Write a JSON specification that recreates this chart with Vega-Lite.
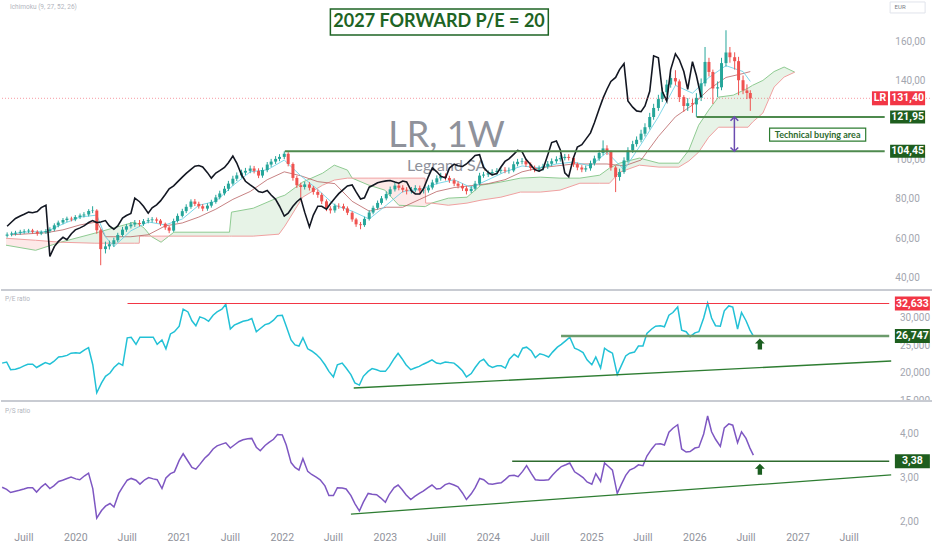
{
"$schema":"https://vega.github.io/schema/vega-lite/v6.json",
"padding":0,
"autosize":{"type":"pad"},
"spacing":0,
"background":"#ffffff",
"config":{"view":{"stroke":null},"font":"Roboto","legend":{"disable":true},"axis":{"disable":true}},
"datasets":{
"px":[
{"d":"2019-04-15","o":61.5,"h":63.2,"l":60.6,"c":62.1,"k":66.3,"pe":21.8,"ps":2.79},
{"d":"2019-05-01","o":62.1,"h":63.6,"l":61.2,"c":62.6,"k":68.5,"pe":22.0,"ps":2.74},
{"d":"2019-05-15","o":62.6,"h":64.0,"l":61.6,"c":63.0,"k":70.3,"pe":20.6,"ps":2.67},
{"d":"2019-06-01","o":63.0,"h":64.5,"l":62.0,"c":63.5,"k":71.5,"pe":20.7,"ps":2.70},
{"d":"2019-06-15","o":63.5,"h":64.8,"l":62.5,"c":63.8,"k":72.4,"pe":20.9,"ps":2.72},
{"d":"2019-07-01","o":63.8,"h":65.0,"l":62.8,"c":64.1,"k":73.5,"pe":21.3,"ps":2.75},
{"d":"2019-07-15","o":64.1,"h":65.0,"l":62.5,"c":63.5,"k":73.2,"pe":21.6,"ps":2.78},
{"d":"2019-08-01","o":63.5,"h":64.3,"l":61.5,"c":62.6,"k":73.8,"pe":21.6,"ps":2.78},
{"d":"2019-08-15","o":62.6,"h":64.2,"l":61.8,"c":63.3,"k":75.8,"pe":21.0,"ps":2.68},
{"d":"2019-09-01","o":63.3,"h":64.9,"l":62.4,"c":63.9,"k":77.0,"pe":21.5,"ps":2.80},
{"d":"2019-09-15","o":63.9,"h":65.8,"l":63.0,"c":64.7,"k":51.0,"pe":21.9,"ps":2.87},
{"d":"2019-10-01","o":64.7,"h":67.8,"l":63.8,"c":66.8,"k":56.0,"pe":21.6,"ps":2.76},
{"d":"2019-10-15","o":66.8,"h":69.2,"l":65.8,"c":68.2,"k":58.5,"pe":22.1,"ps":2.82},
{"d":"2019-11-01","o":68.2,"h":70.5,"l":67.3,"c":69.5,"k":60.7,"pe":22.9,"ps":2.92},
{"d":"2019-11-15","o":69.5,"h":71.2,"l":68.5,"c":70.2,"k":59.5,"pe":23.0,"ps":2.95},
{"d":"2019-12-01","o":70.2,"h":71.2,"l":68.8,"c":69.8,"k":62.5,"pe":23.2,"ps":2.99},
{"d":"2019-12-15","o":69.8,"h":72.0,"l":68.9,"c":71.0,"k":64.5,"pe":23.6,"ps":3.02},
{"d":"2020-01-01","o":71.0,"h":72.8,"l":70.0,"c":71.8,"k":65.5,"pe":23.7,"ps":2.98},
{"d":"2020-01-15","o":71.8,"h":73.5,"l":70.8,"c":72.3,"k":66.5,"pe":23.6,"ps":2.96},
{"d":"2020-02-01","o":72.3,"h":75.0,"l":71.3,"c":74.1,"k":68.2,"pe":24.2,"ps":3.05},
{"d":"2020-02-15","o":74.1,"h":76.5,"l":73.0,"c":74.3,"k":69.2,"pe":24.6,"ps":3.11},
{"d":"2020-03-01","o":74.3,"h":75.0,"l":62.5,"c":64.3,"k":68.2,"pe":21.5,"ps":2.76},
{"d":"2020-03-15","o":64.3,"h":65.0,"l":46.5,"c":54.7,"k":68.5,"pe":16.4,"ps":2.09},
{"d":"2020-04-01","o":54.7,"h":58.5,"l":52.5,"c":56.1,"k":69.2,"pe":18.2,"ps":2.26},
{"d":"2020-04-15","o":56.1,"h":59.0,"l":54.5,"c":57.2,"k":66.5,"pe":19.4,"ps":2.36},
{"d":"2020-05-01","o":57.2,"h":60.5,"l":55.8,"c":59.2,"k":64.8,"pe":20.0,"ps":2.42},
{"d":"2020-05-15","o":59.2,"h":63.0,"l":58.2,"c":61.9,"k":66.5,"pe":21.0,"ps":2.34},
{"d":"2020-06-01","o":61.9,"h":66.0,"l":61.0,"c":64.6,"k":70.5,"pe":21.8,"ps":2.65},
{"d":"2020-06-15","o":64.6,"h":67.5,"l":63.5,"c":66.3,"k":71.8,"pe":21.4,"ps":2.80},
{"d":"2020-07-01","o":66.3,"h":68.5,"l":65.2,"c":67.2,"k":72.8,"pe":26.4,"ps":2.95},
{"d":"2020-07-15","o":67.2,"h":69.5,"l":66.0,"c":68.0,"k":80.6,"pe":26.5,"ps":2.99},
{"d":"2020-08-01","o":68.0,"h":69.5,"l":66.2,"c":67.5,"k":78.8,"pe":25.2,"ps":2.95},
{"d":"2020-08-15","o":67.5,"h":70.0,"l":66.5,"c":68.9,"k":76.5,"pe":26.5,"ps":2.86},
{"d":"2020-09-01","o":68.9,"h":70.6,"l":67.8,"c":69.4,"k":73.0,"pe":26.5,"ps":2.96},
{"d":"2020-09-15","o":69.4,"h":71.0,"l":68.2,"c":69.8,"k":75.7,"pe":26.5,"ps":3.01},
{"d":"2020-10-01","o":69.8,"h":70.8,"l":68.0,"c":69.2,"k":77.2,"pe":26.5,"ps":2.98},
{"d":"2020-10-15","o":69.2,"h":70.0,"l":66.5,"c":67.6,"k":79.2,"pe":25.2,"ps":2.96},
{"d":"2020-11-01","o":67.6,"h":68.2,"l":64.5,"c":65.7,"k":82.5,"pe":26.0,"ps":2.76},
{"d":"2020-11-15","o":65.7,"h":66.5,"l":62.8,"c":64.1,"k":85.4,"pe":24.4,"ps":3.00},
{"d":"2020-12-01","o":64.1,"h":70.2,"l":63.5,"c":69.0,"k":86.9,"pe":27.1,"ps":3.10},
{"d":"2020-12-15","o":69.0,"h":72.8,"l":68.2,"c":71.6,"k":88.9,"pe":27.5,"ps":3.14},
{"d":"2021-01-01","o":71.6,"h":75.2,"l":70.8,"c":74.0,"k":91.3,"pe":28.5,"ps":3.40},
{"d":"2021-01-15","o":74.0,"h":77.5,"l":73.0,"c":76.2,"k":93.2,"pe":31.6,"ps":3.55},
{"d":"2021-02-01","o":76.2,"h":80.0,"l":75.2,"c":78.9,"k":95.2,"pe":31.1,"ps":3.38},
{"d":"2021-02-15","o":78.9,"h":80.2,"l":76.6,"c":77.7,"k":96.9,"pe":29.5,"ps":3.24},
{"d":"2021-03-01","o":77.7,"h":78.8,"l":75.3,"c":76.5,"k":97.2,"pe":28.6,"ps":3.20},
{"d":"2021-03-15","o":76.5,"h":77.6,"l":74.0,"c":75.3,"k":96.5,"pe":30.2,"ps":3.31},
{"d":"2021-04-01","o":75.3,"h":78.0,"l":74.2,"c":76.8,"k":93.6,"pe":29.9,"ps":3.45},
{"d":"2021-04-15","o":76.8,"h":79.8,"l":75.8,"c":78.7,"k":90.8,"pe":29.4,"ps":3.53},
{"d":"2021-05-01","o":78.7,"h":82.3,"l":77.8,"c":81.0,"k":93.4,"pe":30.5,"ps":3.66},
{"d":"2021-05-15","o":81.0,"h":84.4,"l":80.0,"c":83.0,"k":94.6,"pe":31.1,"ps":3.73},
{"d":"2021-06-01","o":83.0,"h":86.8,"l":82.0,"c":85.4,"k":96.2,"pe":31.6,"ps":3.77},
{"d":"2021-06-15","o":85.4,"h":89.4,"l":84.3,"c":88.0,"k":98.6,"pe":32.5,"ps":3.80},
{"d":"2021-07-01","o":88.0,"h":92.0,"l":87.0,"c":90.5,"k":102.0,"pe":28.0,"ps":3.68},
{"d":"2021-07-15","o":90.5,"h":93.7,"l":89.3,"c":92.2,"k":98.5,"pe":28.7,"ps":3.75},
{"d":"2021-08-01","o":92.2,"h":95.1,"l":91.0,"c":93.6,"k":92.5,"pe":29.1,"ps":3.83},
{"d":"2021-08-15","o":93.6,"h":96.0,"l":92.4,"c":94.5,"k":89.2,"pe":29.4,"ps":3.87},
{"d":"2021-09-01","o":94.5,"h":97.2,"l":93.3,"c":95.7,"k":87.4,"pe":29.6,"ps":3.89},
{"d":"2021-09-15","o":95.7,"h":97.0,"l":93.2,"c":94.5,"k":86.0,"pe":29.9,"ps":3.90},
{"d":"2021-10-01","o":94.5,"h":95.8,"l":90.8,"c":92.1,"k":84.0,"pe":27.5,"ps":3.70},
{"d":"2021-10-15","o":92.1,"h":96.2,"l":91.0,"c":94.9,"k":83.5,"pe":28.1,"ps":3.62},
{"d":"2021-11-01","o":94.9,"h":99.0,"l":93.8,"c":97.7,"k":84.5,"pe":28.8,"ps":3.74},
{"d":"2021-11-15","o":97.7,"h":100.6,"l":96.5,"c":99.2,"k":82.2,"pe":29.0,"ps":3.81},
{"d":"2021-12-01","o":99.2,"h":102.0,"l":98.0,"c":100.6,"k":80.0,"pe":29.6,"ps":3.88},
{"d":"2021-12-15","o":100.6,"h":103.0,"l":99.4,"c":101.6,"k":76.5,"pe":30.4,"ps":3.99},
{"d":"2022-01-01","o":101.6,"h":104.45,"l":100.5,"c":103.2,"k":71.5,"pe":30.5,"ps":3.98},
{"d":"2022-01-15","o":103.2,"h":104.0,"l":96.8,"c":98.0,"k":73.0,"pe":28.5,"ps":3.75},
{"d":"2022-02-01","o":98.0,"h":98.8,"l":89.5,"c":90.9,"k":76.5,"pe":26.0,"ps":3.35},
{"d":"2022-02-15","o":90.9,"h":92.0,"l":85.8,"c":87.2,"k":78.8,"pe":25.1,"ps":3.24},
{"d":"2022-03-01","o":87.2,"h":88.5,"l":81.0,"c":86.3,"k":80.5,"pe":24.9,"ps":3.18},
{"d":"2022-03-15","o":86.3,"h":89.0,"l":85.0,"c":87.6,"k":73.5,"pe":26.4,"ps":3.44},
{"d":"2022-04-01","o":87.6,"h":88.8,"l":84.5,"c":85.9,"k":66.0,"pe":24.4,"ps":3.15},
{"d":"2022-04-15","o":85.9,"h":86.8,"l":82.4,"c":83.8,"k":72.0,"pe":24.0,"ps":3.08},
{"d":"2022-05-01","o":83.8,"h":85.0,"l":80.8,"c":82.3,"k":76.5,"pe":23.4,"ps":3.02},
{"d":"2022-05-15","o":82.3,"h":83.3,"l":77.6,"c":79.0,"k":76.5,"pe":22.7,"ps":2.96},
{"d":"2022-06-01","o":79.0,"h":80.0,"l":74.0,"c":75.3,"k":75.0,"pe":21.5,"ps":2.82},
{"d":"2022-06-15","o":75.3,"h":76.5,"l":72.8,"c":74.4,"k":77.8,"pe":20.3,"ps":2.60},
{"d":"2022-07-01","o":74.4,"h":77.8,"l":73.2,"c":76.7,"k":80.6,"pe":19.3,"ps":2.60},
{"d":"2022-07-15","o":76.7,"h":78.0,"l":75.2,"c":76.5,"k":82.9,"pe":21.5,"ps":2.78},
{"d":"2022-08-01","o":76.5,"h":77.8,"l":74.2,"c":75.4,"k":85.1,"pe":21.8,"ps":2.77},
{"d":"2022-08-15","o":75.4,"h":76.4,"l":72.0,"c":73.2,"k":86.8,"pe":20.9,"ps":2.75},
{"d":"2022-09-01","o":73.2,"h":74.0,"l":68.6,"c":69.8,"k":87.3,"pe":19.7,"ps":2.60},
{"d":"2022-09-15","o":69.8,"h":70.6,"l":66.0,"c":67.3,"k":83.8,"pe":18.2,"ps":2.42},
{"d":"2022-10-01","o":67.3,"h":68.5,"l":64.8,"c":66.9,"k":80.2,"pe":17.8,"ps":2.25},
{"d":"2022-10-15","o":66.9,"h":71.2,"l":66.0,"c":70.1,"k":80.8,"pe":19.4,"ps":2.45},
{"d":"2022-11-01","o":70.1,"h":74.5,"l":69.2,"c":73.3,"k":86.2,"pe":20.3,"ps":2.65},
{"d":"2022-11-15","o":73.3,"h":76.8,"l":72.4,"c":75.7,"k":87.2,"pe":20.8,"ps":2.63},
{"d":"2022-12-01","o":75.7,"h":79.4,"l":74.8,"c":78.2,"k":88.4,"pe":20.6,"ps":2.62},
{"d":"2022-12-15","o":78.2,"h":81.7,"l":77.3,"c":80.5,"k":89.0,"pe":20.3,"ps":2.55},
{"d":"2023-01-01","o":80.5,"h":84.0,"l":79.5,"c":82.7,"k":89.4,"pe":20.3,"ps":2.45},
{"d":"2023-01-15","o":82.7,"h":86.5,"l":81.6,"c":85.1,"k":89.6,"pe":21.2,"ps":2.63},
{"d":"2023-02-01","o":85.1,"h":88.5,"l":84.0,"c":87.0,"k":88.8,"pe":22.6,"ps":2.78},
{"d":"2023-02-15","o":87.0,"h":88.4,"l":84.6,"c":85.9,"k":88.2,"pe":23.6,"ps":2.84},
{"d":"2023-03-01","o":85.9,"h":87.2,"l":83.5,"c":84.9,"k":89.3,"pe":22.6,"ps":2.74},
{"d":"2023-03-15","o":84.9,"h":86.2,"l":82.5,"c":84.4,"k":88.9,"pe":21.5,"ps":2.62},
{"d":"2023-04-01","o":84.4,"h":86.3,"l":83.0,"c":84.9,"k":84.3,"pe":20.6,"ps":2.51},
{"d":"2023-04-15","o":84.9,"h":87.2,"l":83.6,"c":85.8,"k":82.8,"pe":20.9,"ps":2.58},
{"d":"2023-05-01","o":85.8,"h":87.0,"l":83.2,"c":84.5,"k":82.7,"pe":21.2,"ps":2.65},
{"d":"2023-05-15","o":84.5,"h":86.0,"l":83.0,"c":84.6,"k":85.6,"pe":21.6,"ps":2.70},
{"d":"2023-06-01","o":84.6,"h":87.4,"l":83.4,"c":86.0,"k":91.6,"pe":22.0,"ps":2.78},
{"d":"2023-06-15","o":86.0,"h":90.0,"l":85.0,"c":88.6,"k":96.0,"pe":22.4,"ps":2.84},
{"d":"2023-07-01","o":88.6,"h":92.2,"l":87.6,"c":90.7,"k":94.0,"pe":21.8,"ps":2.75},
{"d":"2023-07-15","o":90.7,"h":93.5,"l":89.5,"c":91.8,"k":91.8,"pe":21.7,"ps":2.76},
{"d":"2023-08-01","o":91.8,"h":93.2,"l":89.6,"c":90.9,"k":90.9,"pe":22.0,"ps":2.85},
{"d":"2023-08-15","o":90.9,"h":92.0,"l":88.4,"c":89.7,"k":95.9,"pe":21.9,"ps":2.88},
{"d":"2023-09-01","o":89.7,"h":90.8,"l":86.7,"c":88.0,"k":97.9,"pe":21.8,"ps":2.84},
{"d":"2023-09-15","o":88.0,"h":89.2,"l":85.6,"c":86.9,"k":97.1,"pe":21.2,"ps":2.80},
{"d":"2023-10-01","o":86.9,"h":88.0,"l":84.3,"c":85.6,"k":96.7,"pe":20.4,"ps":2.66},
{"d":"2023-10-15","o":85.6,"h":86.8,"l":82.5,"c":84.2,"k":98.0,"pe":19.3,"ps":2.51},
{"d":"2023-11-01","o":84.2,"h":86.8,"l":83.2,"c":85.4,"k":100.3,"pe":19.9,"ps":2.64},
{"d":"2023-11-15","o":85.4,"h":89.4,"l":84.5,"c":88.0,"k":102.3,"pe":21.0,"ps":2.78},
{"d":"2023-12-01","o":88.0,"h":93.5,"l":87.0,"c":92.1,"k":102.7,"pe":22.1,"ps":2.99},
{"d":"2023-12-15","o":92.1,"h":94.0,"l":91.0,"c":92.6,"k":96.3,"pe":22.5,"ps":2.96},
{"d":"2024-01-01","o":92.6,"h":94.7,"l":91.4,"c":93.3,"k":93.7,"pe":21.4,"ps":2.87},
{"d":"2024-01-15","o":93.3,"h":95.3,"l":92.0,"c":93.9,"k":92.5,"pe":21.0,"ps":2.86},
{"d":"2024-02-01","o":93.9,"h":95.9,"l":92.6,"c":94.5,"k":93.1,"pe":21.3,"ps":2.88},
{"d":"2024-02-15","o":94.5,"h":96.5,"l":93.2,"c":95.0,"k":96.3,"pe":21.3,"ps":2.89},
{"d":"2024-03-01","o":95.0,"h":96.4,"l":93.3,"c":94.6,"k":99.3,"pe":20.9,"ps":2.97},
{"d":"2024-03-15","o":94.6,"h":96.2,"l":93.1,"c":94.7,"k":100.6,"pe":22.5,"ps":3.05},
{"d":"2024-04-01","o":94.7,"h":99.3,"l":93.8,"c":97.9,"k":102.9,"pe":23.4,"ps":3.06},
{"d":"2024-04-15","o":97.9,"h":100.6,"l":96.8,"c":99.1,"k":104.9,"pe":22.9,"ps":3.03},
{"d":"2024-05-01","o":99.1,"h":101.0,"l":97.8,"c":99.4,"k":104.3,"pe":24.5,"ps":3.15},
{"d":"2024-05-15","o":99.4,"h":100.4,"l":96.5,"c":97.8,"k":100.4,"pe":24.7,"ps":3.28},
{"d":"2024-06-01","o":97.8,"h":98.8,"l":94.6,"c":96.0,"k":97.6,"pe":24.0,"ps":3.10},
{"d":"2024-06-15","o":96.0,"h":97.2,"l":93.8,"c":95.1,"k":95.2,"pe":22.8,"ps":2.96},
{"d":"2024-07-01","o":95.1,"h":97.2,"l":93.9,"c":95.8,"k":94.3,"pe":23.5,"ps":2.95},
{"d":"2024-07-15","o":95.8,"h":98.1,"l":94.6,"c":96.7,"k":95.3,"pe":23.3,"ps":2.95},
{"d":"2024-08-01","o":96.7,"h":99.5,"l":95.5,"c":98.1,"k":102.5,"pe":22.9,"ps":2.96},
{"d":"2024-08-15","o":98.1,"h":100.8,"l":97.0,"c":99.4,"k":108.9,"pe":23.8,"ps":3.07},
{"d":"2024-09-01","o":99.4,"h":101.9,"l":98.2,"c":100.4,"k":109.7,"pe":24.7,"ps":3.18},
{"d":"2024-09-15","o":100.4,"h":102.5,"l":99.2,"c":101.0,"k":105.1,"pe":25.2,"ps":3.26},
{"d":"2024-10-01","o":101.0,"h":103.1,"l":99.8,"c":101.6,"k":93.5,"pe":25.9,"ps":3.30},
{"d":"2024-10-15","o":101.6,"h":103.0,"l":99.8,"c":101.1,"k":91.5,"pe":26.5,"ps":3.34},
{"d":"2024-11-01","o":101.1,"h":101.9,"l":96.5,"c":97.9,"k":101.1,"pe":24.5,"ps":3.14},
{"d":"2024-11-15","o":97.9,"h":98.7,"l":94.8,"c":96.2,"k":106.6,"pe":24.2,"ps":3.08},
{"d":"2024-12-01","o":96.2,"h":97.4,"l":93.8,"c":95.2,"k":107.8,"pe":23.7,"ps":3.01},
{"d":"2024-12-15","o":95.2,"h":97.2,"l":94.0,"c":95.8,"k":110.5,"pe":22.4,"ps":2.91},
{"d":"2025-01-01","o":95.8,"h":99.7,"l":94.6,"c":98.3,"k":113.8,"pe":21.5,"ps":2.86},
{"d":"2025-01-15","o":98.3,"h":102.2,"l":97.2,"c":100.8,"k":119.0,"pe":22.9,"ps":3.10},
{"d":"2025-02-01","o":100.8,"h":105.1,"l":99.6,"c":103.6,"k":126.0,"pe":20.9,"ps":2.92},
{"d":"2025-02-15","o":103.6,"h":110.0,"l":102.4,"c":105.9,"k":131.5,"pe":24.5,"ps":3.34},
{"d":"2025-03-01","o":105.9,"h":107.5,"l":102.6,"c":104.1,"k":136.0,"pe":24.0,"ps":3.26},
{"d":"2025-03-15","o":104.1,"h":104.8,"l":94.6,"c":96.2,"k":140.0,"pe":23.6,"ps":3.18},
{"d":"2025-04-01","o":96.2,"h":97.0,"l":83.7,"c":91.4,"k":142.0,"pe":19.7,"ps":2.65},
{"d":"2025-04-15","o":91.4,"h":95.6,"l":89.5,"c":93.9,"k":146.0,"pe":21.3,"ps":2.85},
{"d":"2025-05-01","o":93.9,"h":101.4,"l":93.0,"c":99.8,"k":149.0,"pe":23.1,"ps":3.06},
{"d":"2025-05-15","o":99.8,"h":106.5,"l":98.8,"c":104.9,"k":130.0,"pe":23.6,"ps":3.18},
{"d":"2025-06-01","o":104.9,"h":109.8,"l":103.6,"c":108.1,"k":126.9,"pe":23.8,"ps":3.23},
{"d":"2025-06-15","o":108.1,"h":112.0,"l":106.8,"c":110.3,"k":125.0,"pe":24.9,"ps":3.30},
{"d":"2025-07-01","o":110.3,"h":115.4,"l":109.0,"c":113.4,"k":124.6,"pe":24.9,"ps":3.28},
{"d":"2025-07-15","o":113.4,"h":118.7,"l":112.0,"c":116.7,"k":127.5,"pe":27.2,"ps":3.50},
{"d":"2025-08-01","o":116.7,"h":124.0,"l":115.5,"c":121.9,"k":135.0,"pe":28.0,"ps":3.66},
{"d":"2025-08-15","o":121.9,"h":128.6,"l":120.5,"c":126.5,"k":153.0,"pe":28.5,"ps":3.77},
{"d":"2025-09-01","o":126.5,"h":133.2,"l":125.0,"c":131.0,"k":152.0,"pe":28.6,"ps":3.78},
{"d":"2025-09-15","o":131.0,"h":136.8,"l":129.5,"c":134.5,"k":135.0,"pe":28.4,"ps":3.75},
{"d":"2025-10-01","o":134.5,"h":140.8,"l":133.0,"c":138.4,"k":130.0,"pe":30.5,"ps":4.04},
{"d":"2025-10-15","o":138.4,"h":144.0,"l":136.8,"c":141.7,"k":146.0,"pe":31.0,"ps":4.13},
{"d":"2025-11-01","o":141.7,"h":145.7,"l":138.0,"c":140.0,"k":154.0,"pe":32.0,"ps":4.21},
{"d":"2025-11-15","o":140.0,"h":141.0,"l":129.5,"c":132.0,"k":151.0,"pe":27.8,"ps":3.66},
{"d":"2025-12-01","o":132.0,"h":133.0,"l":124.5,"c":127.5,"k":145.0,"pe":27.5,"ps":3.59},
{"d":"2025-12-15","o":127.5,"h":131.5,"l":125.0,"c":128.9,"k":136.0,"pe":26.6,"ps":3.60},
{"d":"2026-01-01","o":128.9,"h":131.0,"l":124.0,"c":128.3,"k":150.0,"pe":27.3,"ps":3.68},
{"d":"2026-01-15","o":128.3,"h":134.0,"l":121.95,"c":131.6,"k":143.0,"pe":27.5,"ps":3.70},
{"d":"2026-02-01","o":131.6,"h":141.5,"l":130.0,"c":139.0,"k":132.0,"pe":30.0,"ps":4.00},
{"d":"2026-02-15","o":139.0,"h":157.5,"l":137.5,"c":149.9,"pe":32.7,"ps":4.41},
{"d":"2026-03-01","o":149.9,"h":152.0,"l":142.5,"c":144.8,"pe":30.0,"ps":4.05},
{"d":"2026-03-15","o":144.8,"h":146.0,"l":128.5,"c":136.4,"pe":28.6,"ps":3.88},
{"d":"2026-04-01","o":136.4,"h":140.0,"l":132.0,"c":137.0,"pe":28.5,"ps":3.72},
{"d":"2026-04-15","o":137.0,"h":152.0,"l":135.5,"c":149.3,"pe":31.3,"ps":4.14},
{"d":"2026-05-01","o":149.3,"h":166.0,"l":147.5,"c":154.7,"pe":32.2,"ps":4.23},
{"d":"2026-05-15","o":154.7,"h":157.5,"l":149.5,"c":152.3,"pe":32.0,"ps":4.20},
{"d":"2026-06-01","o":152.3,"h":154.8,"l":146.0,"c":150.3,"pe":28.0,"ps":3.80},
{"d":"2026-06-15","o":150.3,"h":152.5,"l":133.0,"c":140.6,"pe":31.0,"ps":4.05},
{"d":"2026-07-01","o":140.6,"h":143.0,"l":133.5,"c":135.4,"pe":29.5,"ps":3.90},
{"d":"2026-07-15","o":135.4,"h":138.5,"l":131.0,"c":134.1,"pe":27.8,"ps":3.68},
{"d":"2026-07-27","o":134.1,"h":135.5,"l":125.0,"c":131.4,"pe":26.7,"ps":3.52}
],
"cloud":[
{"d":"2019-04-11","a":56.7,"b":60.2,"s":1,"kind":"bear"},
{"d":"2019-07-26","a":54.1,"b":59.2,"s":1,"kind":"bear"},
{"d":"2019-10-23","a":58.2,"b":58.2,"s":1,"kind":"bear"},
{"d":"2019-10-23","a":58.2,"b":58.2,"s":2,"kind":"bull"},
{"d":"2020-02-23","a":62.8,"b":57.7,"s":2,"kind":"bull"},
{"d":"2020-07-13","a":68.4,"b":57.7,"s":2,"kind":"bull"},
{"d":"2020-07-31","a":67.2,"b":57.7,"s":2,"kind":"bull"},
{"d":"2020-08-01","a":67.1,"b":61.3,"s":2,"kind":"bull"},
{"d":"2020-08-18","a":65.3,"b":61.3,"s":2,"kind":"bull"},
{"d":"2020-09-10","a":61.3,"b":61.3,"s":2,"kind":"bull"},
{"d":"2020-09-10","a":61.3,"b":61.3,"s":3,"kind":"bear"},
{"d":"2020-10-17","a":58.2,"b":61.3,"s":3,"kind":"bear"},
{"d":"2020-11-14","a":61.3,"b":61.3,"s":3,"kind":"bear"},
{"d":"2020-11-14","a":61.3,"b":61.3,"s":4,"kind":"bull"},
{"d":"2020-12-02","a":63.3,"b":61.3,"s":4,"kind":"bull"},
{"d":"2021-06-19","a":63.3,"b":61.3,"s":4,"kind":"bull"},
{"d":"2021-06-26","a":73.5,"b":61.3,"s":4,"kind":"bull"},
{"d":"2021-09-12","a":75.5,"b":61.3,"s":4,"kind":"bull"},
{"d":"2021-12-13","a":81.1,"b":62.3,"s":4,"kind":"bull"},
{"d":"2022-01-03","a":82.1,"b":66.4,"s":4,"kind":"bull"},
{"d":"2022-03-08","a":88.8,"b":81.1,"s":4,"kind":"bull"},
{"d":"2022-05-18","a":93.3,"b":87.2,"s":4,"kind":"bull"},
{"d":"2022-06-29","a":97.4,"b":89.8,"s":4,"kind":"bull"},
{"d":"2022-08-15","a":94.9,"b":90.8,"s":4,"kind":"bull"},
{"d":"2022-09-01","a":90.8,"b":90.8,"s":4,"kind":"bull"},
{"d":"2022-09-01","a":90.8,"b":90.8,"s":5,"kind":"bear"},
{"d":"2022-10-31","a":87.2,"b":90.8,"s":5,"kind":"bear"},
{"d":"2022-12-27","a":84.7,"b":90.8,"s":5,"kind":"bear"},
{"d":"2023-02-15","a":77.0,"b":90.8,"s":5,"kind":"bear"},
{"d":"2023-05-20","a":76.3,"b":90.8,"s":5,"kind":"bear"},
{"d":"2023-05-22","a":76.4,"b":78.1,"s":5,"kind":"bear"},
{"d":"2023-06-12","a":78.1,"b":78.1,"s":5,"kind":"bear"},
{"d":"2023-06-12","a":78.1,"b":78.1,"s":6,"kind":"bull"},
{"d":"2023-08-11","a":80.6,"b":77.0,"s":6,"kind":"bull"},
{"d":"2023-10-17","a":81.1,"b":78.1,"s":6,"kind":"bull"},
{"d":"2023-12-06","a":87.2,"b":79.6,"s":6,"kind":"bull"},
{"d":"2024-02-15","a":88.8,"b":81.1,"s":6,"kind":"bull"},
{"d":"2024-04-25","a":90.8,"b":83.7,"s":6,"kind":"bull"},
{"d":"2024-07-05","a":91.3,"b":83.7,"s":6,"kind":"bull"},
{"d":"2024-09-14","a":90.8,"b":84.7,"s":6,"kind":"bull"},
{"d":"2024-11-24","a":90.8,"b":88.2,"s":6,"kind":"bull"},
{"d":"2025-02-03","a":92.3,"b":88.2,"s":6,"kind":"bull"},
{"d":"2025-03-10","a":95.9,"b":88.2,"s":6,"kind":"bull"},
{"d":"2025-04-15","a":98.4,"b":93.8,"s":6,"kind":"bull"},
{"d":"2025-06-25","a":101.0,"b":97.4,"s":6,"kind":"bull"},
{"d":"2025-09-03","a":98.4,"b":96.4,"s":6,"kind":"bull"},
{"d":"2025-11-13","a":98.4,"b":96.4,"s":6,"kind":"bull"},
{"d":"2025-12-19","a":105.0,"b":99.5,"s":6,"kind":"bull"},
{"d":"2026-01-23","a":117.7,"b":104.0,"s":6,"kind":"bull"},
{"d":"2026-02-28","a":125.4,"b":111.6,"s":6,"kind":"bull"},
{"d":"2026-04-04","a":132.0,"b":116.7,"s":6,"kind":"bull"},
{"d":"2026-05-27","a":133.0,"b":116.7,"s":6,"kind":"bull"},
{"d":"2026-07-19","a":136.6,"b":116.7,"s":6,"kind":"bull"},
{"d":"2026-08-04","a":138.0,"b":119.3,"s":6,"kind":"bull"},
{"d":"2026-09-10","a":140.5,"b":123.9,"s":6,"kind":"bull"},
{"d":"2026-10-20","a":145.0,"b":137.1,"s":6,"kind":"bull"},
{"d":"2026-11-25","a":147.3,"b":142.2,"s":6,"kind":"bull"},
{"d":"2027-01-02","a":144.7,"b":144.7,"s":6,"kind":"bull"}
],
"ichi":[
{"d":"2019-05-01","tk":62.5,"kj":62.0},{"d":"2019-07-01","tk":63.5,"kj":62.5},{"d":"2019-09-01","tk":63.5,"kj":63.0},
{"d":"2019-11-01","tk":67.5,"kj":64.5},{"d":"2020-01-01","tk":71.0,"kj":67.0},{"d":"2020-03-01","tk":72.0,"kj":68.5},
{"d":"2020-04-01","tk":61.0,"kj":61.0},{"d":"2020-05-01","tk":56.0,"kj":61.0},{"d":"2020-07-01","tk":64.0,"kj":61.0},
{"d":"2020-09-01","tk":68.5,"kj":62.0},{"d":"2020-11-01","tk":67.0,"kj":66.5},{"d":"2021-01-01","tk":70.0,"kj":68.0},
{"d":"2021-03-01","tk":77.0,"kj":71.0},{"d":"2021-05-01","tk":79.0,"kj":75.0},{"d":"2021-07-01","tk":87.0,"kj":80.0},
{"d":"2021-09-01","tk":94.0,"kj":84.0},{"d":"2021-11-01","tk":95.0,"kj":90.0},{"d":"2022-01-01","tk":100.0,"kj":94.0},
{"d":"2022-03-01","tk":92.0,"kj":92.0},{"d":"2022-05-01","tk":85.0,"kj":89.0},{"d":"2022-07-01","tk":77.0,"kj":88.0},
{"d":"2022-09-01","tk":74.0,"kj":79.0},{"d":"2022-11-01","tk":70.0,"kj":74.0},{"d":"2023-01-01","tk":77.0,"kj":76.0},
{"d":"2023-03-01","tk":84.0,"kj":76.0},{"d":"2023-05-01","tk":85.0,"kj":80.0},{"d":"2023-07-01","tk":88.0,"kj":84.0},
{"d":"2023-09-01","tk":90.0,"kj":86.0},{"d":"2023-11-01","tk":86.0,"kj":87.0},{"d":"2024-01-01","tk":90.0,"kj":88.0},
{"d":"2024-03-01","tk":94.0,"kj":90.0},{"d":"2024-05-01","tk":97.0,"kj":94.0},{"d":"2024-07-01","tk":96.0,"kj":96.0},
{"d":"2024-09-01","tk":98.0,"kj":97.0},{"d":"2024-11-01","tk":99.0,"kj":98.0},{"d":"2025-01-01","tk":97.0,"kj":98.0},
{"d":"2025-03-01","tk":104.0,"kj":98.0},{"d":"2025-05-01","tk":95.0,"kj":97.0},{"d":"2025-07-01","tk":108.0,"kj":100.0},
{"d":"2025-09-01","tk":122.0,"kj":112.0},{"d":"2025-11-01","tk":138.0,"kj":122.0},{"d":"2026-01-01","tk":134.0,"kj":128.0},
{"d":"2026-03-01","tk":142.0,"kj":136.0},{"d":"2026-05-01","tk":148.0,"kj":142.0},{"d":"2026-07-01","tk":145.0,"kj":144.0},
{"d":"2026-07-27","tk":140.0,"kj":145.0}
],
"xlab":[
{"d":"2019-07-01","t":"Juill"},{"d":"2020-01-01","t":"2020"},{"d":"2020-07-01","t":"Juill"},{"d":"2021-01-01","t":"2021"},
{"d":"2021-07-01","t":"Juill"},{"d":"2022-01-01","t":"2022"},{"d":"2022-07-01","t":"Juill"},{"d":"2023-01-01","t":"2023"},
{"d":"2023-07-01","t":"Juill"},{"d":"2024-01-01","t":"2024"},{"d":"2024-07-01","t":"Juill"},{"d":"2025-01-01","t":"2025"},
{"d":"2025-07-01","t":"Juill"},{"d":"2026-01-01","t":"2026"},{"d":"2026-07-01","t":"Juill"},{"d":"2027-01-01","t":"2027"},
{"d":"2027-07-01","t":"Juill"}
]
},
"vconcat":[
{
"width":932,"height":290,
"layer":[
{"data":{"values":[{"v":40,"t":"40,00"},{"v":60,"t":"60,00"},{"v":80,"t":"80,00"},{"v":100,"t":"100,00"},{"v":140,"t":"140,00"},{"v":160,"t":"160,00"}]},
 "mark":{"type":"text","align":"left","baseline":"middle","fontSize":10,"fill":"#a3a6af"},
 "encoding":{
  "x":{"datum":{"year":2027,"month":12,"date":28,"utc":true},"type":"temporal","scale":{"type":"utc","domain":[{"year":2019,"month":4,"date":11,"utc":true},{"year":2028,"month":4,"date":23,"utc":true}]}},
  "y":{"field":"v","type":"quantitative","scale":{"domain":[33.9,181.4],"nice":false,"zero":false}},
  "text":{"field":"t"}}},
{"data":{"values":[{}]},"mark":{"type":"rule","color":"#c8cbd2","strokeWidth":2},
 "encoding":{"y":{"datum":33.9,"type":"quantitative"}}},
{"data":{"values":[{}]},"mark":{"type":"text","text":"LR, 1W","font":"Lato","fontSize":36,"fill":"#8f929b","align":"center","baseline":"alphabetic"},
 "encoding":{"x":{"datum":{"year":2023,"month":8,"date":5,"utc":true},"type":"temporal"},"y":{"datum":106.8,"type":"quantitative"}}},
{"data":{"values":[{}]},"mark":{"type":"text","text":"Legrand SA","font":"Lato","fontSize":16,"fill":"#8f929b","align":"center","baseline":"alphabetic"},
 "encoding":{"x":{"datum":{"year":2023,"month":8,"date":5,"utc":true},"type":"temporal"},"y":{"datum":94.6,"type":"quantitative"}}},
{"data":{"name":"cloud"},"mark":{"type":"area","opacity":0.13,"clip":true},
 "encoding":{"x":{"field":"d","type":"temporal"},"y":{"field":"a","type":"quantitative"},"y2":{"field":"b"},"detail":{"field":"s"},
  "color":{"field":"kind","type":"nominal","scale":{"domain":["bull","bear"],"range":["#43a047","#ef5350"]},"legend":null}}},
{"data":{"name":"cloud"},"mark":{"type":"line","color":"#8fcb92","strokeWidth":1,"clip":true},
 "encoding":{"x":{"field":"d","type":"temporal"},"y":{"field":"a","type":"quantitative"}}},
{"data":{"name":"cloud"},"mark":{"type":"line","color":"#f0a0a0","strokeWidth":1,"clip":true},
 "encoding":{"x":{"field":"d","type":"temporal"},"y":{"field":"b","type":"quantitative"}}},
{"data":{"name":"ichi"},"mark":{"type":"line","color":"#b4585a","strokeWidth":1,"opacity":0.75,"clip":true},
 "encoding":{"x":{"field":"d","type":"temporal"},"y":{"field":"kj","type":"quantitative"}}},
{"data":{"name":"ichi"},"mark":{"type":"line","color":"#6fd3e6","strokeWidth":1,"opacity":0.9,"clip":true},
 "encoding":{"x":{"field":"d","type":"temporal"},"y":{"field":"tk","type":"quantitative"}}},
{"data":{"name":"px"},
 "encoding":{"x":{"field":"d","type":"temporal"},"color":{"condition":{"test":"datum.c >= datum.o","value":"#26a69a"},"value":"#ef5350"}},
 "layer":[
  {"mark":{"type":"rule","strokeWidth":1,"clip":true},"encoding":{"y":{"field":"l","type":"quantitative"},"y2":{"field":"h"}}},
  {"mark":{"type":"bar","size":3,"clip":true},"encoding":{"y":{"field":"o","type":"quantitative"},"y2":{"field":"c"}}}
 ]},
{"data":{"name":"px"},"mark":{"type":"line","color":"#131722","strokeWidth":1.6,"clip":true},
 "encoding":{"x":{"field":"d","type":"temporal"},"y":{"field":"k","type":"quantitative"}}},
{"data":{"values":[{}]},"mark":{"type":"rule","color":"#f23645","strokeWidth":1,"strokeDash":[1,2],"opacity":0.5},
 "encoding":{"y":{"datum":131.4,"type":"quantitative"}}},
{"data":{"values":[{"d1":"2022-01-03","d2":"2027-11-20","v":104.45},{"d1":"2026-01-16","d2":"2027-11-20","v":121.95}]},
 "mark":{"type":"rule","color":"#4e8a4e","strokeWidth":2},
 "encoding":{"x":{"field":"d1","type":"temporal"},"x2":{"field":"d2"},"y":{"field":"v","type":"quantitative"}}},
{"data":{"values":[{}]},"mark":{"type":"rule","color":"#6a4cb0","strokeWidth":1.5},
 "encoding":{"x":{"datum":{"year":2026,"month":5,"date":31,"utc":true},"type":"temporal"},"y":{"datum":121.95,"type":"quantitative"},"y2":{"datum":104.45}}},
{"data":{"values":[{}]},"mark":{"type":"point","shape":"M-1,1L0,0L1,1","size":60,"stroke":"#6a4cb0","strokeWidth":1.5,"filled":false,"opacity":1},
 "encoding":{"x":{"datum":{"year":2026,"month":5,"date":31,"utc":true},"type":"temporal"},"y":{"datum":121.95,"type":"quantitative"}}},
{"data":{"values":[{}]},"mark":{"type":"point","shape":"M-1,-1L0,0L1,-1","size":60,"stroke":"#6a4cb0","strokeWidth":1.5,"filled":false,"opacity":1},
 "encoding":{"x":{"datum":{"year":2026,"month":5,"date":31,"utc":true},"type":"temporal"},"y":{"datum":104.45,"type":"quantitative"}}},
{"data":{"values":[{}]},"mark":{"type":"rect","fill":"#ffffff","stroke":"#2e7d32","strokeWidth":1.2},
 "encoding":{"x":{"datum":{"year":2026,"month":10,"date":4,"utc":true},"type":"temporal"},"x2":{"datum":{"year":2027,"month":9,"date":13,"utc":true}},"y":{"datum":116.2,"type":"quantitative"},"y2":{"datum":109.6}}},
{"data":{"values":[{}]},"mark":{"type":"text","text":"Technical buying area","font":"Lato","fontWeight":"bold","fontSize":9,"fill":"#2e6b2e","align":"center","baseline":"middle"},
 "encoding":{"x":{"datum":{"year":2027,"month":3,"date":25,"utc":true},"type":"temporal"},"y":{"datum":112.9,"type":"quantitative"}}},
{"data":{"values":[{}]},"mark":{"type":"rect","fill":"#ffffff","stroke":"#1e6424","strokeWidth":1.5},
 "encoding":{"x":{"datum":{"year":2022,"month":6,"date":15,"utc":true},"type":"temporal"},"x2":{"datum":{"year":2024,"month":8,"date":3,"utc":true}},"y":{"datum":176.8,"type":"quantitative"},"y2":{"datum":163.6}}},
{"data":{"values":[{}]},"mark":{"type":"text","text":"2027 FORWARD P/E = 20","font":"Lato","fontWeight":"bold","fontSize":18,"fill":"#1e6424","align":"center","baseline":"middle"},
 "encoding":{"x":{"datum":{"year":2023,"month":7,"date":9,"utc":true},"type":"temporal"},"y":{"datum":170.2,"type":"quantitative"}}},
{"data":{"values":[{"v":131.4,"t":"131,40"}]},
 "encoding":{"x":{"datum":{"year":2028,"month":2,"date":10,"utc":true},"type":"temporal"},"y":{"field":"v","type":"quantitative"}},
 "layer":[
  {"mark":{"type":"tick","orient":"horizontal","size":35,"thickness":14,"color":"#f23645","opacity":1}},
  {"mark":{"type":"text","color":"#ffffff","fontSize":10.5,"fontWeight":"bold","align":"center","baseline":"middle"},"encoding":{"text":{"field":"t"}}}
 ]},
{"data":{"values":[{"v":131.4,"t":"LR"}]},
 "encoding":{"x":{"datum":{"year":2027,"month":11,"date":3,"utc":true},"type":"temporal"},"y":{"field":"v","type":"quantitative"}},
 "layer":[
  {"mark":{"type":"tick","orient":"horizontal","size":16,"thickness":14,"color":"#f23645","opacity":1}},
  {"mark":{"type":"text","color":"#ffffff","fontSize":10.5,"fontWeight":"bold","align":"center","baseline":"middle"},"encoding":{"text":{"field":"t"}}}
 ]},
{"data":{"values":[{"v":121.95,"t":"121,95"},{"v":104.45,"t":"104,45"}]},
 "encoding":{"x":{"datum":{"year":2028,"month":2,"date":10,"utc":true},"type":"temporal"},"y":{"field":"v","type":"quantitative"}},
 "layer":[
  {"mark":{"type":"tick","orient":"horizontal","size":35,"thickness":13,"color":"#1e5e1e","opacity":1}},
  {"mark":{"type":"text","color":"#ffffff","fontSize":10.5,"fontWeight":"bold","align":"center","baseline":"middle"},"encoding":{"text":{"field":"t"}}}
 ]},
{"data":{"values":[{}]},"mark":{"type":"tick","orient":"horizontal","size":35,"thickness":11,"fill":"#ffffff","stroke":"#e0e3eb","strokeWidth":1,"opacity":1},
 "encoding":{"x":{"datum":{"year":2028,"month":2,"date":10,"utc":true},"type":"temporal"},"y":{"datum":177.6,"type":"quantitative"}}},
{"data":{"values":[{}]},"mark":{"type":"text","text":"EUR","fontSize":6,"fill":"#787b86","align":"left","baseline":"middle","dx":-13},
 "encoding":{"x":{"datum":{"year":2028,"month":2,"date":10,"utc":true},"type":"temporal"},"y":{"datum":177.6,"type":"quantitative"}}},
{"data":{"values":[{}]},"mark":{"type":"text","text":"Ichimoku (9, 27, 52, 26)","fontSize":6.5,"fill":"#b2b5be","align":"left","baseline":"middle"},
 "encoding":{"x":{"datum":{"year":2019,"month":4,"date":25,"utc":true},"type":"temporal"},"y":{"datum":177.8,"type":"quantitative"}}}
]
},
{
"width":932,"height":110,
"layer":[
{"data":{"values":[{"v":15,"t":"15,000"},{"v":20,"t":"20,000"},{"v":25,"t":"25,000"},{"v":30,"t":"30,000"}]},
 "mark":{"type":"text","align":"left","baseline":"middle","fontSize":10,"fill":"#a3a6af","clip":true},
 "encoding":{
  "x":{"datum":{"year":2027,"month":12,"date":28,"utc":true},"type":"temporal","scale":{"type":"utc","domain":[{"year":2019,"month":4,"date":11,"utc":true},{"year":2028,"month":4,"date":23,"utc":true}]}},
  "y":{"field":"v","type":"quantitative","scale":{"domain":[14.91,34.91],"nice":false,"zero":false}},
  "text":{"field":"t"}}},
{"data":{"values":[{}]},"mark":{"type":"rule","color":"#c8cbd2","strokeWidth":2},
 "encoding":{"y":{"datum":14.91,"type":"quantitative"}}},
{"data":{"name":"px"},"mark":{"type":"line","color":"#22c1d6","strokeWidth":1.5,"clip":true},
 "encoding":{"x":{"field":"d","type":"temporal"},"y":{"field":"pe","type":"quantitative"}}},
{"data":{"values":[{"d1":"2020-07-02","d2":"2027-11-20","v":32.633}]},"mark":{"type":"rule","color":"#f23645","strokeWidth":1.2},
 "encoding":{"x":{"field":"d1","type":"temporal"},"x2":{"field":"d2"},"y":{"field":"v","type":"quantitative"}}},
{"data":{"values":[{"d1":"2024-09-14","d2":"2027-11-20","v":26.747}]},"mark":{"type":"rule","color":"#6b9b6b","strokeWidth":2.5},
 "encoding":{"x":{"field":"d1","type":"temporal"},"x2":{"field":"d2"},"y":{"field":"v","type":"quantitative"}}},
{"data":{"values":[{"d1":"2022-09-11","v1":17.27,"d2":"2027-11-27","v2":22.18}]},"mark":{"type":"rule","color":"#2e7d32","strokeWidth":1.3},
 "encoding":{"x":{"field":"d1","type":"temporal"},"x2":{"field":"d2"},"y":{"field":"v1","type":"quantitative"},"y2":{"field":"v2"}}},
{"data":{"values":[{}]},"mark":{"type":"point","shape":"M0,-1L0.9,-0.1L0.4,-0.1L0.4,1L-0.4,1L-0.4,-0.1L-0.9,-0.1Z","size":120,"filled":true,"color":"#1b5e20","opacity":1},
 "encoding":{"x":{"datum":{"year":2026,"month":8,"date":19,"utc":true},"type":"temporal"},"y":{"datum":25.27,"type":"quantitative"}}},
{"data":{"values":[{"v":32.633,"t":"32,633"}]},
 "encoding":{"x":{"datum":{"year":2028,"month":2,"date":10,"utc":true},"type":"temporal"},"y":{"field":"v","type":"quantitative"}},
 "layer":[
  {"mark":{"type":"tick","orient":"horizontal","size":35,"thickness":14,"color":"#f23645","opacity":1}},
  {"mark":{"type":"text","color":"#ffffff","fontSize":10.5,"fontWeight":"bold","align":"center","baseline":"middle"},"encoding":{"text":{"field":"t"}}}
 ]},
{"data":{"values":[{"v":26.747,"t":"26,747"}]},
 "encoding":{"x":{"datum":{"year":2028,"month":2,"date":10,"utc":true},"type":"temporal"},"y":{"field":"v","type":"quantitative"}},
 "layer":[
  {"mark":{"type":"tick","orient":"horizontal","size":35,"thickness":14,"color":"#1e5e1e","opacity":1}},
  {"mark":{"type":"text","color":"#ffffff","fontSize":10.5,"fontWeight":"bold","align":"center","baseline":"middle"},"encoding":{"text":{"field":"t"}}}
 ]},
{"data":{"values":[{}]},"mark":{"type":"text","text":"P/E ratio","fontSize":6.5,"fill":"#b2b5be","align":"left","baseline":"middle"},
 "encoding":{"x":{"datum":{"year":2019,"month":4,"date":25,"utc":true},"type":"temporal"},"y":{"datum":33.45,"type":"quantitative"}}}
]
},
{
"width":932,"height":124,
"layer":[
{"data":{"values":[{"v":2,"t":"2,00"},{"v":3,"t":"3,00"},{"v":4,"t":"4,00"}]},
 "mark":{"type":"text","align":"left","baseline":"middle","fontSize":10,"fill":"#a3a6af"},
 "encoding":{
  "x":{"datum":{"year":2027,"month":12,"date":28,"utc":true},"type":"temporal","scale":{"type":"utc","domain":[{"year":2019,"month":4,"date":11,"utc":true},{"year":2028,"month":4,"date":23,"utc":true}]}},
  "y":{"field":"v","type":"quantitative","scale":{"domain":[1.909,4.727],"nice":false,"zero":false}},
  "text":{"field":"t"}}},
{"data":{"name":"xlab"},"mark":{"type":"text","align":"center","baseline":"middle","fontSize":10.5,"fill":"#8f929b"},
 "encoding":{"x":{"field":"d","type":"temporal"},"y":{"datum":1.636,"type":"quantitative"},"text":{"field":"t"}}},
{"data":{"name":"px"},"mark":{"type":"line","color":"#7e57c2","strokeWidth":1.5,"clip":true},
 "encoding":{"x":{"field":"d","type":"temporal"},"y":{"field":"ps","type":"quantitative"}}},
{"data":{"values":[{"d1":"2024-03-25","d2":"2027-11-20","v":3.38}]},"mark":{"type":"rule","color":"#2e6b2e","strokeWidth":1.5},
 "encoding":{"x":{"field":"d1","type":"temporal"},"x2":{"field":"d2"},"y":{"field":"v","type":"quantitative"}}},
{"data":{"values":[{"d1":"2022-09-01","v1":2.18,"d2":"2027-11-27","v2":3.07}]},"mark":{"type":"rule","color":"#2e7d32","strokeWidth":1.3},
 "encoding":{"x":{"field":"d1","type":"temporal"},"x2":{"field":"d2"},"y":{"field":"v1","type":"quantitative"},"y2":{"field":"v2"}}},
{"data":{"values":[{}]},"mark":{"type":"point","shape":"M0,-1L0.9,-0.1L0.4,-0.1L0.4,1L-0.4,1L-0.4,-0.1L-0.9,-0.1Z","size":120,"filled":true,"color":"#1b5e20","opacity":1},
 "encoding":{"x":{"datum":{"year":2026,"month":8,"date":19,"utc":true},"type":"temporal"},"y":{"datum":3.2,"type":"quantitative"}}},
{"data":{"values":[{"v":3.38,"t":"3,38"}]},
 "encoding":{"x":{"datum":{"year":2028,"month":2,"date":10,"utc":true},"type":"temporal"},"y":{"field":"v","type":"quantitative"}},
 "layer":[
  {"mark":{"type":"tick","orient":"horizontal","size":35,"thickness":14,"color":"#1e5e1e","opacity":1}},
  {"mark":{"type":"text","color":"#ffffff","fontSize":10.5,"fontWeight":"bold","align":"center","baseline":"middle"},"encoding":{"text":{"field":"t"}}}
 ]},
{"data":{"values":[{}]},"mark":{"type":"text","text":"P/S ratio","fontSize":6.5,"fill":"#b2b5be","align":"left","baseline":"middle"},
 "encoding":{"x":{"datum":{"year":2019,"month":4,"date":25,"utc":true},"type":"temporal"},"y":{"datum":4.52,"type":"quantitative"}}}
]
}
]
}
